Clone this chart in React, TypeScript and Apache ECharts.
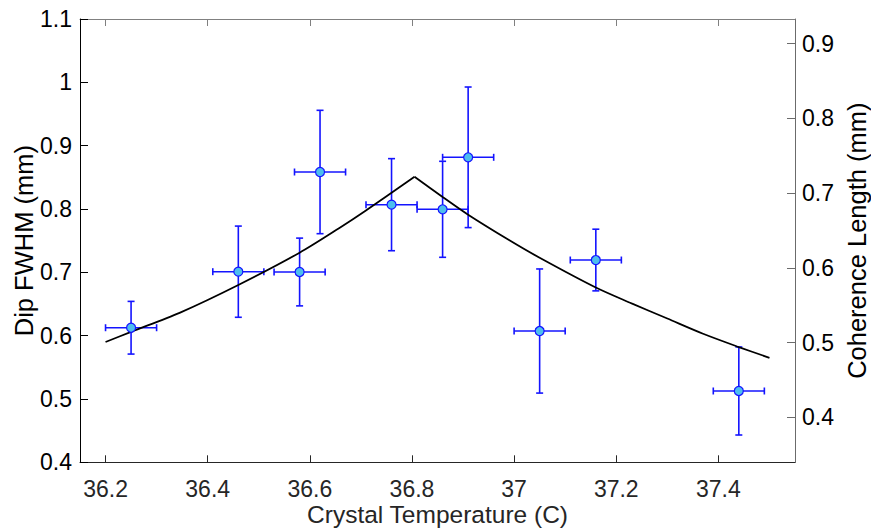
import React, { useEffect, useRef } from "react";
import * as echarts from "echarts";

// Measured data points
const tempX = [36.25, 36.46, 36.58, 36.62, 36.76, 36.86, 36.91, 37.05, 37.16, 37.44];
const dipY = [0.6125, 0.701, 0.7005, 0.8584, 0.8068, 0.7995, 0.8816, 0.6073, 0.7194, 0.5126];
const xErr = [0.05, 0.05, 0.05, 0.05, 0.05, 0.05, 0.05, 0.05, 0.05, 0.05];
const yErr = [0.0416, 0.072, 0.0535, 0.0974, 0.0727, 0.0758, 0.111, 0.098, 0.0487, 0.0695];

// Fit curve (rising and falling branches)
const fitLeftX = [36.2, 36.25, 36.345, 36.46, 36.58, 36.658, 36.707, 36.805];
const fitLeftY = [0.59, 0.606, 0.636, 0.68, 0.731, 0.77, 0.796, 0.851];
const fitRightX = [36.805, 36.86, 36.91, 36.99, 37.05, 37.16, 37.23, 37.3, 37.37, 37.44, 37.5];
const fitRightY = [0.851, 0.819, 0.791, 0.751, 0.723, 0.676, 0.651, 0.627, 0.603, 0.582, 0.565];

// Tick labels
const xTicks = [36.2, 36.4, 36.6, 36.8, 37, 37.2, 37.4];
const leftTicks = [0.4, 0.5, 0.6, 0.7, 0.8, 0.9, 1.0, 1.1];
const rightTicks = [0.4, 0.5, 0.6, 0.7, 0.8, 0.9];

const FONT = "'Liberation Sans', Arial, Helvetica, sans-serif";
const fmt = (v: any) => String(parseFloat(Number(v).toFixed(2)));

export default function App() {
  const ref = useRef<HTMLDivElement>(null);
  useEffect(() => {
    if (!ref.current) return;
    const chart = echarts.init(ref.current, null, { renderer: "svg" });
    const errData = tempX.map((x, i) => [x, dipY[i], xErr[i], yErr[i]]);
    const option: any = {
      animation: false,
      backgroundColor: "#ffffff",
      textStyle: { fontFamily: FONT },
      grid: { left: 80, top: 19, width: 715, height: 443.3, containLabel: false, outerBoundsMode: "none" },
      xAxis: [
        {
          type: "value",
          min: 36.15,
          max: 37.55,
          position: "bottom",
          name: "Crystal Temperature (C)",
          nameLocation: "middle",
          nameGap: 40,
          nameMoveOverlap: false,
          nameTextStyle: { fontSize: 24.5, color: "#262626", fontFamily: FONT },
          axisLine: { show: true, lineStyle: { color: "#262626", width: 1 } },
          axisTick: { show: true, inside: true, length: 7, customValues: xTicks, lineStyle: { color: "#262626" } },
          axisLabel: { customValues: xTicks, formatter: fmt, fontSize: 23, color: "#262626", margin: 15, fontFamily: FONT },
          splitLine: { show: false },
        },
        {
          type: "value",
          min: 36.15,
          max: 37.55,
          position: "top",
          axisLine: { show: true, lineStyle: { color: "#808080", width: 1 } },
          axisTick: { show: true, inside: true, length: 7, customValues: xTicks, lineStyle: { color: "#808080" } },
          axisLabel: { show: false },
          splitLine: { show: false },
        },
      ],
      yAxis: [
        {
          type: "value",
          min: 0.4,
          max: 1.1,
          position: "left",
          name: "Dip FWHM (mm)",
          nameLocation: "middle",
          nameRotate: 90,
          nameGap: 43.5,
          nameMoveOverlap: false,
          nameTextStyle: { fontSize: 25.5, color: "#000000", fontFamily: FONT },
          axisLine: { show: true, lineStyle: { color: "#000000", width: 1 } },
          axisTick: { show: true, inside: true, length: 8, customValues: leftTicks, lineStyle: { color: "#000000" } },
          axisLabel: { customValues: leftTicks, formatter: fmt, fontSize: 23, color: "#000000", margin: 8, fontFamily: FONT },
          splitLine: { show: false },
        },
        {
          type: "value",
          min: 0.3398,
          max: 0.933,
          position: "right",
          name: "Coherence Length (mm)",
          nameLocation: "middle",
          nameRotate: 90,
          nameGap: 48.5,
          nameMoveOverlap: false,
          nameTextStyle: { fontSize: 25.5, color: "#000000", fontFamily: FONT },
          axisLine: { show: true, lineStyle: { color: "#6b6b6b", width: 1 } },
          axisTick: { show: true, inside: true, length: 8, customValues: rightTicks, lineStyle: { color: "#6b6b6b" } },
          axisLabel: { customValues: rightTicks, formatter: fmt, fontSize: 23, color: "#000000", margin: 7, fontFamily: FONT },
          splitLine: { show: false },
        },
      ],
      series: [
        {
          type: "custom",
          xAxisIndex: 0,
          yAxisIndex: 0,
          data: errData,
          z: 2,
          renderItem: (params: any, api: any) => {
            const x = api.value(0);
            const y = api.value(1);
            const xe = api.value(2);
            const ye = api.value(3);
            const l = api.coord([x - xe, y]);
            const r = api.coord([x + xe, y]);
            const t = api.coord([x, y + ye]);
            const b = api.coord([x, y - ye]);
            const cap = 3.5;
            const style = { stroke: "#1414ff", lineWidth: 1.6 };
            const ln = (x1: number, y1: number, x2: number, y2: number) => ({
              type: "line",
              shape: { x1, y1, x2, y2 },
              style,
            });
            return {
              type: "group",
              children: [
                ln(l[0], l[1], r[0], r[1]),
                ln(t[0], t[1], b[0], b[1]),
                ln(l[0], l[1] - cap, l[0], l[1] + cap),
                ln(r[0], r[1] - cap, r[0], r[1] + cap),
                ln(t[0] - cap, t[1], t[0] + cap, t[1]),
                ln(b[0] - cap, b[1], b[0] + cap, b[1]),
              ],
            };
          },
        },
        {
          type: "line",
          xAxisIndex: 0,
          yAxisIndex: 0,
          data: fitLeftX.map((x, i) => [x, fitLeftY[i]]),
          showSymbol: false,
          smooth: 0.3,
          lineStyle: { color: "#000000", width: 1.8 },
          z: 3,
        },
        {
          type: "line",
          xAxisIndex: 0,
          yAxisIndex: 0,
          data: fitRightX.map((x, i) => [x, fitRightY[i]]),
          showSymbol: false,
          smooth: 0.3,
          lineStyle: { color: "#000000", width: 1.8 },
          z: 3,
        },
        {
          type: "scatter",
          xAxisIndex: 0,
          yAxisIndex: 0,
          data: tempX.map((x, i) => [x, dipY[i]]),
          symbol: "circle",
          symbolSize: 9,
          itemStyle: { color: "#4dbeee", borderColor: "#1414ff", borderWidth: 1.2, opacity: 1 },
          z: 4,
        },
      ],
    };
    chart.setOption(option);
    return () => chart.dispose();
  }, []);
  return (
    <div
      ref={ref}
      style={{ position: "fixed", left: 0, top: 0, width: 871, height: 531, background: "#fff" }}
    />
  );
}
